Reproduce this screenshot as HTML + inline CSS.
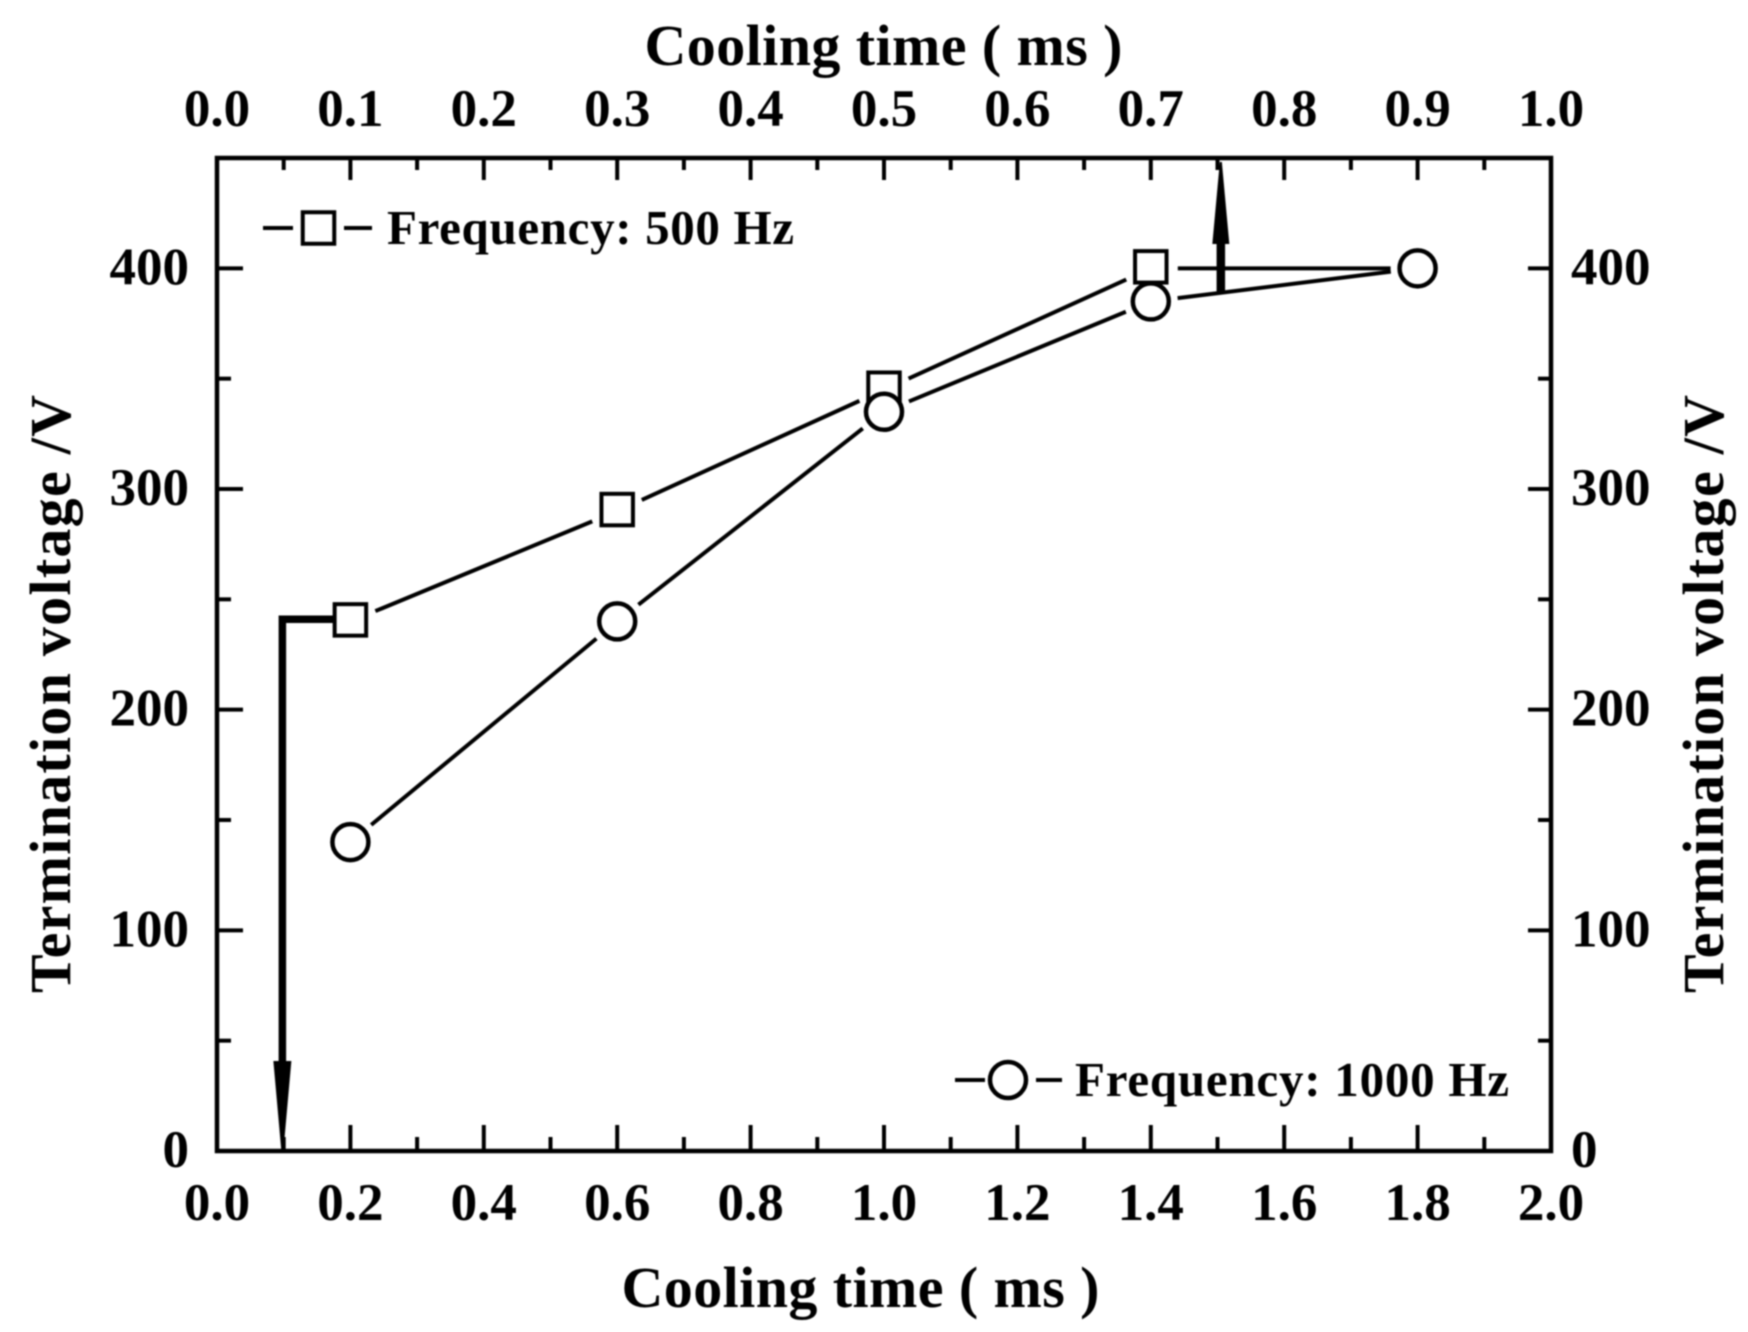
<!DOCTYPE html>
<html lang="en">
<head>
<meta charset="utf-8">
<title>Termination voltage vs cooling time</title>
<style>
html,body{margin:0;padding:0;background:#fff;}
svg{display:block;filter:blur(0.7px);}
text{font-family:"Liberation Serif",serif;font-weight:bold;fill:#000;}
</style>
</head>
<body>
<svg id="chart" xmlns="http://www.w3.org/2000/svg" width="1748" height="1332" viewBox="0 0 1748 1332"></svg>
<script>
const categories = [0.2, 0.6, 1.0, 1.4, 1.8];
const series500Hz = [240, 290, 345, 400, 400];
const series1000Hz = [140, 240, 335, 385, 400];
const bottomTickLabels = ['0.0','0.2','0.4','0.6','0.8','1.0','1.2','1.4','1.6','1.8','2.0'];
const topTickLabels = ['0.0','0.1','0.2','0.3','0.4','0.5','0.6','0.7','0.8','0.9','1.0'];
const yTickLabels = ['0','100','200','300','400'];
const leftArrowX = 0.098;
const leftArrowY = 241;
const rightArrowX = 1.505;
const rightArrowBaseY = 389;

const svg = document.getElementById('chart');
const NS = 'http://www.w3.org/2000/svg';
const plotL = 217, plotR = 1551, plotT = 158, plotB = 1151;
const xMax = 2, yMax = 450;
const xs = v => plotL + (plotR - plotL) * v / xMax;
const ys = v => plotB - (plotB - plotT) * v / yMax;
const ink = '#000';

function make(tag, attrs, parent) {
  const el = document.createElementNS(NS, tag);
  for (const k in attrs) el.setAttribute(k, attrs[k]);
  (parent || svg).appendChild(el);
  return el;
}
function tick(x1, y1, x2, y2, w) {
  const el = make('line', {x1, y1, x2, y2, stroke: ink, 'stroke-width': w});
  
  
}
function label(str, x, y, size, anchor, name) {
  const el = make('text', {x, y, 'font-size': size, 'text-anchor': anchor});
  el.textContent = str;
  
  
  return el;
}

const frame = make('rect', {x: plotL, y: plotT, width: plotR - plotL, height: plotB - plotT, fill: '#fff', stroke: ink, 'stroke-width': 4.5});



for (let i = 1; i < 20; i++) {
  const x = xs(i / 10), major = i % 2 === 0;
  tick(x, plotB, x, plotB - (major ? 26 : 14), 4);
  tick(x, plotT, x, plotT + (major ? 22 : 12), 4);
}
for (let i = 1; i <= 8; i++) {
  const y = ys(i * 50), major = i % 2 === 0;
  tick(plotL, y, plotL + (major ? 26 : 14), y, 4);
  tick(plotR, y, plotR - (major ? 23 : 13), y, 4);
}

bottomTickLabels.forEach((t, i) => {
  label(t, xs(i * 0.2), 1220, 53, 'middle', 'x-tick-label-bottom');
});
topTickLabels.forEach((t, i) => {
  label(t, xs(i * 0.2), 126, 53, 'middle', 'x-tick-label-top');
});
yTickLabels.forEach((t, i) => {
  const y = ys(i * 100) + 16;
  label(t, 189, y, 53, 'end', 'y-tick-label-left');
  label(t, 1571, y, 53, 'start', 'y-tick-label-right');
});

const topTitle = label('Cooling time ( ms )', 883.5, 65, 58, 'middle', 'x-axis-title-top');
topTitle.setAttribute('textLength', 478);
const bottomTitle = label('Cooling time ( ms )', 860.5, 1307, 58, 'middle', 'x-axis-title-bottom');
bottomTitle.setAttribute('textLength', 478);
const leftTitle = label('Termination voltage /V', 0, 0, 58, 'middle', 'y-axis-title-left');
leftTitle.setAttribute('transform', 'translate(70 694) rotate(-90)');
leftTitle.setAttribute('textLength', 598);
const rightTitle = label('Termination voltage /V', 0, 0, 58, 'middle', 'y-axis-title-right');
rightTitle.setAttribute('transform', 'translate(1723 694) rotate(-90)');
rightTitle.setAttribute('textLength', 598);

function drawLine(values, name) {
  const gap = 27;
  for (let i = 0; i < values.length - 1; i++) {
    const x1 = xs(categories[i]), y1 = ys(values[i]);
    const x2 = xs(categories[i + 1]), y2 = ys(values[i + 1]);
    const d = Math.hypot(x2 - x1, y2 - y1);
    const ux = (x2 - x1) / d, uy = (y2 - y1) / d;
    const el = make('line', {x1: x1 + ux * gap, y1: y1 + uy * gap, x2: x2 - ux * gap, y2: y2 - uy * gap, stroke: ink, 'stroke-width': 4});
    
    
  }
}
function squareMark(x, y, name) {
  const el = make('rect', {x: x - 15.75, y: y - 15.75, width: 31.5, height: 31.5, fill: '#fff', stroke: ink, 'stroke-width': 4});
  
  
}
function circleMark(x, y, name) {
  const el = make('circle', {cx: x, cy: y, r: 18, fill: '#fff', stroke: ink, 'stroke-width': 4.5});
  
  
}

drawLine(series500Hz, 'series-500hz-segment');
drawLine(series1000Hz, 'series-1000hz-segment');
series500Hz.forEach((v, i) => {
  // the last 500 Hz point is fully covered by the 1000 Hz circle in the figure
  if (i < series500Hz.length - 1) squareMark(xs(categories[i]), ys(v) - 1.5, 'point-500hz');
});
series1000Hz.forEach((v, i) => {
  circleMark(xs(categories[i]), ys(v), 'point-1000hz');
});

// annotation arrows pointing to each axis
const lax = xs(leftArrowX), lay = ys(leftArrowY);
const leftArrowLine = make('path', {d: `M${xs(categories[0]) - 17} ${lay} H${lax} V${plotB - 60}`, fill: 'none', stroke: ink, 'stroke-width': 7.5});


const leftHead = make('path', {d: `M${lax - 9} ${plotB - 90} H${lax + 9} L${lax + 1} ${plotB} H${lax - 1} Z`, fill: ink});



const rax = xs(rightArrowX), ray = ys(rightArrowBaseY);
const rightArrowLine = make('line', {x1: rax, y1: ray + 1, x2: rax, y2: 240, stroke: ink, 'stroke-width': 8.5});


const rightHead = make('path', {d: `M${rax - 8.5} 244 H${rax + 8.5} L${rax + 1} 162 H${rax - 1} Z`, fill: ink});



// legends
function legendLine(x1, x2, y) {
  const el = make('line', {x1, y1: y, x2, y2: y, stroke: ink, 'stroke-width': 4});
  
  
}
legendLine(263, 293, 228);
legendLine(344, 372, 228);
squareMark(318.5, 228, 'legend-square-marker');
const legendA = label('Frequency: 500 Hz', 387, 244, 49, 'start', 'legend-entry-500hz');
legendA.setAttribute('textLength', 407);
legendLine(955, 985, 1080);
legendLine(1036, 1062, 1080);
circleMark(1008, 1080, 'legend-circle-marker');
const legendB = label('Frequency: 1000 Hz', 1075, 1096, 49, 'start', 'legend-entry-1000hz');
legendB.setAttribute('textLength', 434);
</script>
</body>
</html>
